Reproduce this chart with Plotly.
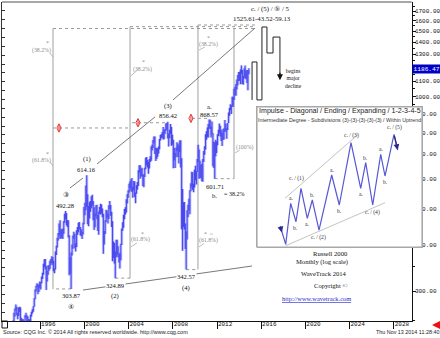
import math
import pandas as pd
import plotly.graph_objects as go

# ---------------- Russell 2000, monthly high / low (Jun 1993 - Nov 2014) ----------------
first_month = "1993-06-01"
high = [
    247, 250, 262, 269, 276, 272, 262,                                   # 1993
    271, 272, 271, 254, 252, 252, 247, 258, 262, 258, 256, 252,          # 1994
    252, 259, 264, 268, 273, 287, 303, 310, 315, 313, 312, 318,          # 1995
    317, 328, 336, 355, 365, 366, 350, 340, 352, 352, 362, 366,          # 1996
    372, 370, 362, 345, 383, 397, 417, 430, 456, 465, 440, 440,          # 1997
    442, 463, 484, 492.28, 486, 465, 465, 424, 370, 381, 400, 423,       # 1998
    433, 428, 403, 437, 446, 458, 460, 446, 440, 433, 458, 505,          # 1999
    518, 577, 614.16, 546, 508, 520, 524, 540, 545, 524, 504, 485,       # 2000
    510, 512, 480, 491, 505, 515, 513, 500, 484, 435, 465, 496,          # 2001
    494, 484, 510, 524, 511, 490, 462, 408, 404, 383, 412, 412,          # 2002
    396, 376, 380, 402, 442, 459, 481, 499, 504, 530, 546, 560,          # 2003
    583, 591, 599, 604, 572, 593, 592, 552, 578, 589, 634, 654,          # 2004
    654, 640, 644, 617, 618, 644, 685, 688, 676, 667, 680, 691,          # 2005
    735, 742, 765, 782, 782, 729, 728, 726, 735, 769, 789, 794,          # 2006
    803, 829, 813, 818, 847, 850, 856.42, 796, 815, 844, 829, 790,       # 2007
    766, 728, 706, 730, 754, 748, 740, 762, 763, 683, 564, 520,          # 2008
    521, 456, 434, 495, 512, 531, 560, 585, 628, 626, 583, 636,          # 2009
    652, 630, 680, 742, 721, 672, 655, 660, 680, 714, 736, 792,          # 2010
    807, 826, 844, 868.57, 867, 830, 858, 797, 756, 754, 766, 758,       # 2011
    792, 815, 847, 835, 815, 799, 817, 822, 865, 846, 823, 850,          # 2012
    906, 932, 954, 948, 1000, 999, 1051, 1064, 1082, 1113, 1144, 1165,   # 2013
    1167, 1183, 1213, 1180, 1136, 1193, 1213, 1176, 1180, 1180, 1192,    # 2014
]
low = [
    237, 241, 248, 256, 266, 258, 252,                                   # 1993
    257, 264, 249, 243, 244, 238, 239, 245, 254, 249, 239, 235,          # 1994
    244, 247, 256, 261, 264, 272, 285, 299, 307, 294, 298, 306,          # 1995
    303, 315, 323, 332, 348, 343, 302, 318, 332, 340, 344, 352,          # 1996
    357, 353, 339, 335, 343, 375, 393, 410, 423, 415, 415, 418,          # 1997
    414, 428, 458, 468, 451, 446, 418, 331, 334, 303.87, 374, 390,       # 1998
    415, 391, 383, 394, 425, 432, 440, 424, 421, 414, 426, 454,          # 1999
    480, 495, 505, 454, 448, 470, 490, 501, 509, 465, 438, 445,          # 2000
    477, 468, 435, 425, 484, 482, 485, 474, 378, 400, 427, 460,          # 2001
    472, 456, 469, 498, 478, 446, 361, 368, 356, 324.89, 370, 375,       # 2002
    370, 358, 345, 363, 399, 436, 444, 468, 482, 488, 516, 535,          # 2003
    552, 568, 558, 554, 535, 559, 537, 517, 548, 563, 575, 624,          # 2004
    601, 610, 610, 575, 571, 608, 638, 654, 645, 620, 641, 667,          # 2005
    672, 716, 728, 749, 701, 671, 680, 689, 703, 722, 762, 773,          # 2006
    775, 767, 768, 793, 809, 816, 772, 735, 773, 793, 738, 743,          # 2007
    642, 673, 643, 687, 714, 688, 661, 710, 645, 440, 385, 446,          # 2008
    439, 389, 342.57, 413, 474, 494, 483, 557, 570, 561, 553, 570,       # 2009
    596, 580, 627, 668, 601, 603, 605, 592, 590, 667, 698, 721,          # 2010
    766, 778, 777, 820, 819, 777, 791, 650, 643, 601.71, 691, 706,       # 2011
    740, 784, 796, 781, 760, 737, 765, 767, 805, 806, 770, 814,          # 2012
    850, 888, 920, 898, 940, 940, 979, 1009, 1006, 1045, 1073, 1102,     # 2013
    1104, 1080, 1153, 1082, 1077, 1124, 1119, 1114, 1088, 1041, 1150,    # 2014
]
last_price = 1186.47

# ---------------- Elliott wave pivots ----------------
wave_dates = ["1998-04-15", "1998-10-15", "2000-03-15", "2002-10-15",
              "2007-07-15", "2009-03-15", "2011-04-15", "2011-10-15"]
wave_values = [492.28, 303.87, 614.16, 324.89, 856.42, 342.57, 868.57, 601.71]
wave_names = ["③", "④", "(1)", "(2)", "(3)", "(4)", "a.", "b."]
wave_is_peak = [True, False, True, False, True, False, True, False]

# ---------------- Fibonacci projection boxes ----------------
fib_anchor_dates = ["1997-02-24", "2004-02-14", "2010-04-08", "2013-07-12"]
fib_base_dates = ["1998-10-15", "2002-10-15", "2009-03-15", "2011-10-15"]
fib_base_values = [303.87, 324.89, 342.57, 601.71]
fib_top_values = [1525.61, 1543.52, 1559.13, 1525.61]
fib_end_date = "2015-06-06"
fib_618_values = [823.8, 851.0, 874.4]
fib_618_starts = ["1997-02-24", "2004-04-18", "2009-09-24"]
fib_618_ends = ["2004-02-14", "2007-06-20", "2011-05-10"]
fib_marker_dates = ["1997-09-09", "2004-11-03", "2009-08-20"]

# ---------------- diagonal boundary lines ----------------
upper_line_dates = [("1998-09-08", "1999-11-11"), ("2001-02-17", "2006-05-19"), ("2008-01-04", "2015-06-06")]
upper_line_values = [(568, 604), (659, 882), (980, 1530)]
lower_line_dates = ("1999-11-11", "2015-03-01")
lower_line_values = (301.8, 350.3)

# ---------------- projected path ----------------
proj_dates = ["2015-03-01", "2015-03-01", "2015-08-10", "2015-08-10", "2016-01-22", "2016-01-22",
              "2016-07-05", "2016-07-05", "2017-01-22", "2017-01-22", "2017-09-08", "2017-09-08"]
proj_values = [980, 1240, 1240, 980, 980, 1540, 1540, 1311, 1311, 1447, 1447, 1140]

# ---------------- axis labels ----------------
year_ticks = ["1996", "2000", "2004", "2008", "2012", "2016", "2020", "2024", "2028"]
price_ticks = [300, 400, 500, 600, 700, 800, 900, 1000, 1100, 1200, 1300, 1400, 1500, 1600, 1700]

# ---------------- schematic of an expanding ending diagonal ----------------
sketch_x = [24.2, 29.7, 34.7, 40, 45, 51.3, 56.3, 63, 75.7, 83.3, 95, 104.7, 109.7, 116.7, 124.7, 129, 138, 141.7]
sketch_y = [22, 3.7, 44.7, 26.3, 59.7, 29.7, 48, 18, 73, 43, 105.3, 59.7, 85.3, 43, 93.7, 72, 113.7, 98]
sketch_labels = ["", "", "a.", "b.", "c. / (1)", "a.", "b.", "c. / (2)", "a.", "b.", "c. / (3)",
                 "a.", "b.", "c. / (4)", "a.", "b.", "c. / (5)", ""]
sketch_upper = ([29, 102.3], [49.7, 113.7])
sketch_lower = ([29.7, 129], [2.3, 45.3])

SERIF = "Liberation Serif"
SANS = "Liberation Sans"
MONO = "Liberation Mono"
BLUE = "rgb(72,72,238)"

fig = go.Figure()


def segments(pairs_x, pairs_y):
    xs, ys = [], []
    for (a, b), (c, d) in zip(pairs_x, pairs_y):
        xs += [a, b, None]
        ys += [c, d, None]
    return xs, ys


# Fibonacci boxes: solid verticals, dotted base / top / 61.8% levels
vx, vy = segments([(d, d) for d in fib_anchor_dates],
                  list(zip(fib_base_values, fib_top_values)))
fig.add_trace(go.Scatter(x=vx, y=vy, mode="lines", line=dict(color="#c4c4c4", width=1.6),
                         hoverinfo="skip"))
dx_, dy_ = segments(list(zip(fib_base_dates, fib_anchor_dates)) +
                    [(d, fib_end_date) for d in fib_anchor_dates[:3]] +
                    list(zip(fib_618_starts, fib_618_ends)),
                    [(v, v) for v in fib_base_values] +
                    [(v, v) for v in fib_top_values[:3]] +
                    [(v, v) for v in fib_618_values])
fig.add_trace(go.Scatter(x=dx_, y=dy_, mode="lines",
                         line=dict(color="#9a9a9a", width=1, dash="dot"), hoverinfo="skip"))
fig.add_trace(go.Scatter(x=fib_marker_dates, y=fib_618_values, mode="markers",
                         marker=dict(symbol="diamond-tall-open", size=6, color="#e83a3a",
                                     line=dict(width=1, color="#e83a3a")),
                         hoverinfo="skip"))
fig.add_trace(go.Scatter(x=fib_marker_dates, y=fib_618_values, mode="markers",
                         marker=dict(symbol="line-ns-open", size=5, color="#e83a3a",
                                     line=dict(width=1, color="#e83a3a")),
                         hoverinfo="skip"))

# price bars
months = pd.date_range(first_month, periods=len(high), freq="MS") + pd.Timedelta(days=14)
bx, by = [], []
for d, h, l in zip(months, high, low):
    s = d.strftime("%Y-%m-%d")
    bx += [s, s, None]
    by += [l, h, None]
fig.add_trace(go.Scatter(x=bx, y=by, mode="lines", line=dict(color="rgba(125,125,255,0.45)", width=3),
                         hoverinfo="skip"))
fig.add_trace(go.Scatter(x=bx, y=by, mode="lines", line=dict(color=BLUE, width=1.1),
                         hoverinfo="skip"))

# diagonal boundary lines
ux, uy = segments(upper_line_dates, upper_line_values)
ux += list(lower_line_dates)
uy += list(lower_line_values)
fig.add_trace(go.Scatter(x=ux, y=uy, mode="lines", line=dict(color="#555555", width=0.8),
                         hoverinfo="skip"))

# projected path
fig.add_trace(go.Scatter(x=proj_dates, y=proj_values, mode="lines", line=dict(color="#222222", width=1),
                         hoverinfo="skip"))

# left edge scale (unlabelled ticks)
fig.add_trace(go.Scatter(x=[fib_end_date], y=[0.5], yaxis="y3", mode="markers",
                         marker=dict(opacity=0), hoverinfo="skip"))

# schematic panel
fig.add_trace(go.Scatter(x=[0.8, 166.2, 166.2, 0.8, 0.8], y=[0.8, 0.8, 141.2, 141.2, 0.8],
                         xaxis="x2", yaxis="y2", mode="lines", fill="toself", fillcolor="white",
                         line=dict(color="#a8a8a8", width=1.6), hoverinfo="skip"))
fig.add_trace(go.Scatter(x=sketch_upper[0], y=sketch_upper[1], xaxis="x2", yaxis="y2", mode="lines",
                         line=dict(color="#b4b4b4", width=0.8), hoverinfo="skip"))
fig.add_trace(go.Scatter(x=sketch_lower[0], y=sketch_lower[1], xaxis="x2", yaxis="y2", mode="lines",
                         line=dict(color="#b4b4b4", width=0.8), hoverinfo="skip"))
fig.add_trace(go.Scatter(x=sketch_x, y=sketch_y, xaxis="x2", yaxis="y2", mode="lines",
                         line=dict(color="rgb(88,88,212)", width=1.2), hoverinfo="skip"))

ann = []


def note(x, y, text, size=6.6, color="#111111", family=SERIF, dx=0, dy=0, bg=None, **kw):
    d = dict(x=x, y=y, text=text, showarrow=False, xshift=dx, yshift=dy,
             font=dict(family=family, size=size, color=color), borderpad=0)
    if bg:
        d["bgcolor"] = bg
    d.update(kw)
    ann.append(d)


lg = math.log10

# wave labels with their values
for d, v, name, peak in zip(wave_dates, wave_values, wave_names, wave_is_peak):
    sgn = 1 if peak else -1
    near = 6 if peak else 7
    far = 16 if peak else 18
    if name == "a.":
        near, far = 5, 13
    if name == "b.":
        near, far = 8, 17
    val_text = f"{v:.2f}"
    note(d, lg(v), val_text, dy=sgn * near, bg="white" if name in ("(2)", "(4)", "④") else None)
    note(d, lg(v), name, dy=sgn * far, size=7 if name in ("③", "④") else 6.6)
note(wave_dates[7], lg(wave_values[7]), "= 38.2%", dx=19, dy=-15, size=6)

# Fibonacci ratio labels
fib_notes = [
    ("1996-01-24", 1335, "(38.2%)"), ("1996-08-10", 1395, "*"),
    ("1996-01-24", 675.5, "(61.8%)"), ("1996-08-10", 701, "*"),
    ("2005-04-16", 1187, "(38.2%)"), ("2005-05-20", 1240, "*"),
    ("2005-02-10", 411.6, "(61.8%)"), ("2005-04-16", 427, "*"),
    ("2011-04-07", 1378, "(38.2%)"), ("2011-04-07", 1439, "*"),
    ("2011-03-06", 409, "(61.8%)"), ("2011-03-06", 427, "*  ~"),
    ("2014-07-08", 727.8, "(100%)"),
]
for d, v, t in fib_notes:
    note(d, lg(v), t, size=5.8, color="#8c8c8c")

conn_dates = [("1996-11-16", "1997-02-24"), ("1996-11-16", "1997-02-24"),
              ("2004-03-06", "2004-09-30"), ("2004-03-06", "2004-09-30"),
              ("2010-05-10", "2010-11-25"), ("2010-05-10", "2010-10-23"),
              ("2013-08-14", "2014-01-25")]
conn_values = [(1311, 1279), (667.4, 651), (1137, 1176), (394, 404), (1335, 1360), (394, 402.7), (705.6, 719)]
cx, cy = segments(conn_dates, conn_values)
fig.add_trace(go.Scatter(x=cx, y=cy, mode="lines", line=dict(color="#a0a0a0", width=0.7),
                         hoverinfo="skip"))

# target text and projection notes
note("2016-10-15", lg(1722), "c. / (5) / ⑤ / 5", size=6.8)
note("2016-01-23", lg(1619), "1525.61-43.52-59.13", size=6.8)
note("2018-11-14", lg(1118), "begins<br>major<br>decline", size=5.6)
ann.append(dict(x=proj_dates[-1], y=lg(1108), ax=0, ay=-9, text="", showarrow=True,
                arrowhead=2, arrowsize=1, arrowwidth=1.2, arrowcolor="#111111"))

# last price flag on the price scale
ann.append(dict(x=0.9354, xref="paper", y=lg(last_price), yref="y", xanchor="left",
                text=f"{last_price:.2f}", showarrow=False, bgcolor="#0000c8", borderpad=0.5,
                font=dict(family=MONO, size=6.2, color="white")))

# schematic texts
note(84, 137, "Impulse - Diagonal / Ending / Expanding / 1-2-3-4-5", xref="x2", yref="y2",
     family=SANS, size=7.1, color="#222222")
note(84, 128, "Intermediate Degree - Subdivisions (3)-(3)-(3)-(3)-(3) / Within Uptrend", xref="x2",
     yref="y2", family=SANS, size=5.3, color="#333333")
for x, y, t, i in zip(sketch_x, sketch_y, sketch_labels, range(len(sketch_x))):
    if not t:
        continue
    peak = sketch_y[i] > sketch_y[i - 1]
    dy = 5 if peak else -6
    dx = 0
    if t.startswith("c."):
        dy = 7 if peak else -7
        if i == 4:
            dx, dy = -4, 10
    note(x, y, t, xref="x2", yref="y2", size=5.6, color="#333333", dx=dx, dy=dy)
ann.append(dict(x=sketch_x[-1], y=sketch_y[-1], ax=sketch_x[-2], ay=sketch_y[-2], axref="x2", ayref="y2",
                xref="x2", yref="y2", text="", showarrow=True, arrowhead=2, arrowsize=0.9,
                arrowwidth=1.3, arrowcolor="#2a2a8a"))
ann.append(dict(x=25.9, y=15.5, ax=24.2, ay=22, axref="x2", ayref="y2", xref="x2", yref="y2",
                text="", showarrow=True, arrowhead=2, arrowsize=0.9, arrowwidth=1.3,
                arrowcolor="#2a2a8a"))

# caption block
for py, t, x in [(0.1975, "Russell 2000", 0.7922), (0.1693, "Monthly (log scale)", 0.7922),
                 (0.1348, "WaveTrack 2014", 0.790), (0.0972, "Copyright ©", 0.790)]:
    note(x, py, t, xref="paper", yref="paper", size=6.6)
note(0.7991, 0.0564, "<span style='text-decoration:underline'>http://www.wavetrack.com</span>",
     xref="paper", yref="paper", size=6.4, color="#2a2ad0")

# footer
note(0, -0.0455, "Source: CQG Inc. © 2014 All rights reserved worldwide. http://www.cqg.com",
     xref="paper", yref="paper", xanchor="left", family=SANS, size=5.5, color="#222222")
note(1, -0.0455, "Thu Nov 13 2014 11:28:40", xref="paper", yref="paper", xanchor="right",
     family=SANS, size=5.4, color="#222222")
ann.append(dict(x=0.9817, y=-0.0125, xref="paper", yref="paper", ax=7, ay=0, text="",
                showarrow=True, arrowhead=2, arrowsize=1, arrowwidth=2.6, arrowcolor="#ee1111"))

fig.update_layout(
    width=440, height=338,
    margin=dict(l=2, r=0, t=2, b=17),
    paper_bgcolor="white", plot_bgcolor="white",
    showlegend=False,
    annotations=ann,
    xaxis=dict(type="date", domain=[0, 0.9354], range=["1992-07-14", "2029-08-11"],
               tickvals=[f"{y}-01-01" for y in year_ticks], ticktext=year_ticks,
               ticks="outside", ticklen=7, tickcolor="#111111", tickwidth=1,
               showline=True, linecolor="#111111", linewidth=1, showgrid=False, zeroline=False,
               tickfont=dict(family=MONO, size=6, color="#111111"),
               ticklabelshift=8, ticklabelstandoff=-10),
    yaxis=dict(type="log", range=[2.3964, 3.2548], side="right", anchor="x",
               tickvals=price_ticks,
               ticktext=["" if p == 1200 else f"{p}.00" for p in price_ticks],
               ticks="outside", ticklen=3, tickcolor="#111111",
               minor=dict(tickvals=[p + 50 for p in [200] + price_ticks], ticks="outside", ticklen=2,
                          tickcolor="#111111"),
               showline=True, linecolor="#111111", linewidth=1, showgrid=False, zeroline=False,
               tickfont=dict(family=MONO, size=6, color="#111111"), ticklabelstandoff=-2),
    yaxis3=dict(overlaying="y", side="left", anchor="x", range=[0, 1], dtick=1 / 36,
                ticks="inside", ticklen=3, tickcolor="#333333", showticklabels=False,
                showline=True, linecolor="#333333", linewidth=1, showgrid=False, zeroline=False),
    xaxis2=dict(domain=[0.5799, 0.9612], range=[0, 167], anchor="y2", visible=False),
    yaxis2=dict(domain=[0.2288, 0.6740], range=[0, 142], anchor="x2", visible=False),
    shapes=[
        dict(type="line", xref="paper", yref="paper", x0=0, x1=0.9354, y0=1, y1=1,
             line=dict(color="#8a8a8a", width=1.5)),
        dict(type="rect", xref="paper", yref="paper", x0=0, x1=0.0126, y0=-0.0219, y1=0,
             line=dict(color="#111111", width=1)),
    ],
)

fig.write_html("out.html")
